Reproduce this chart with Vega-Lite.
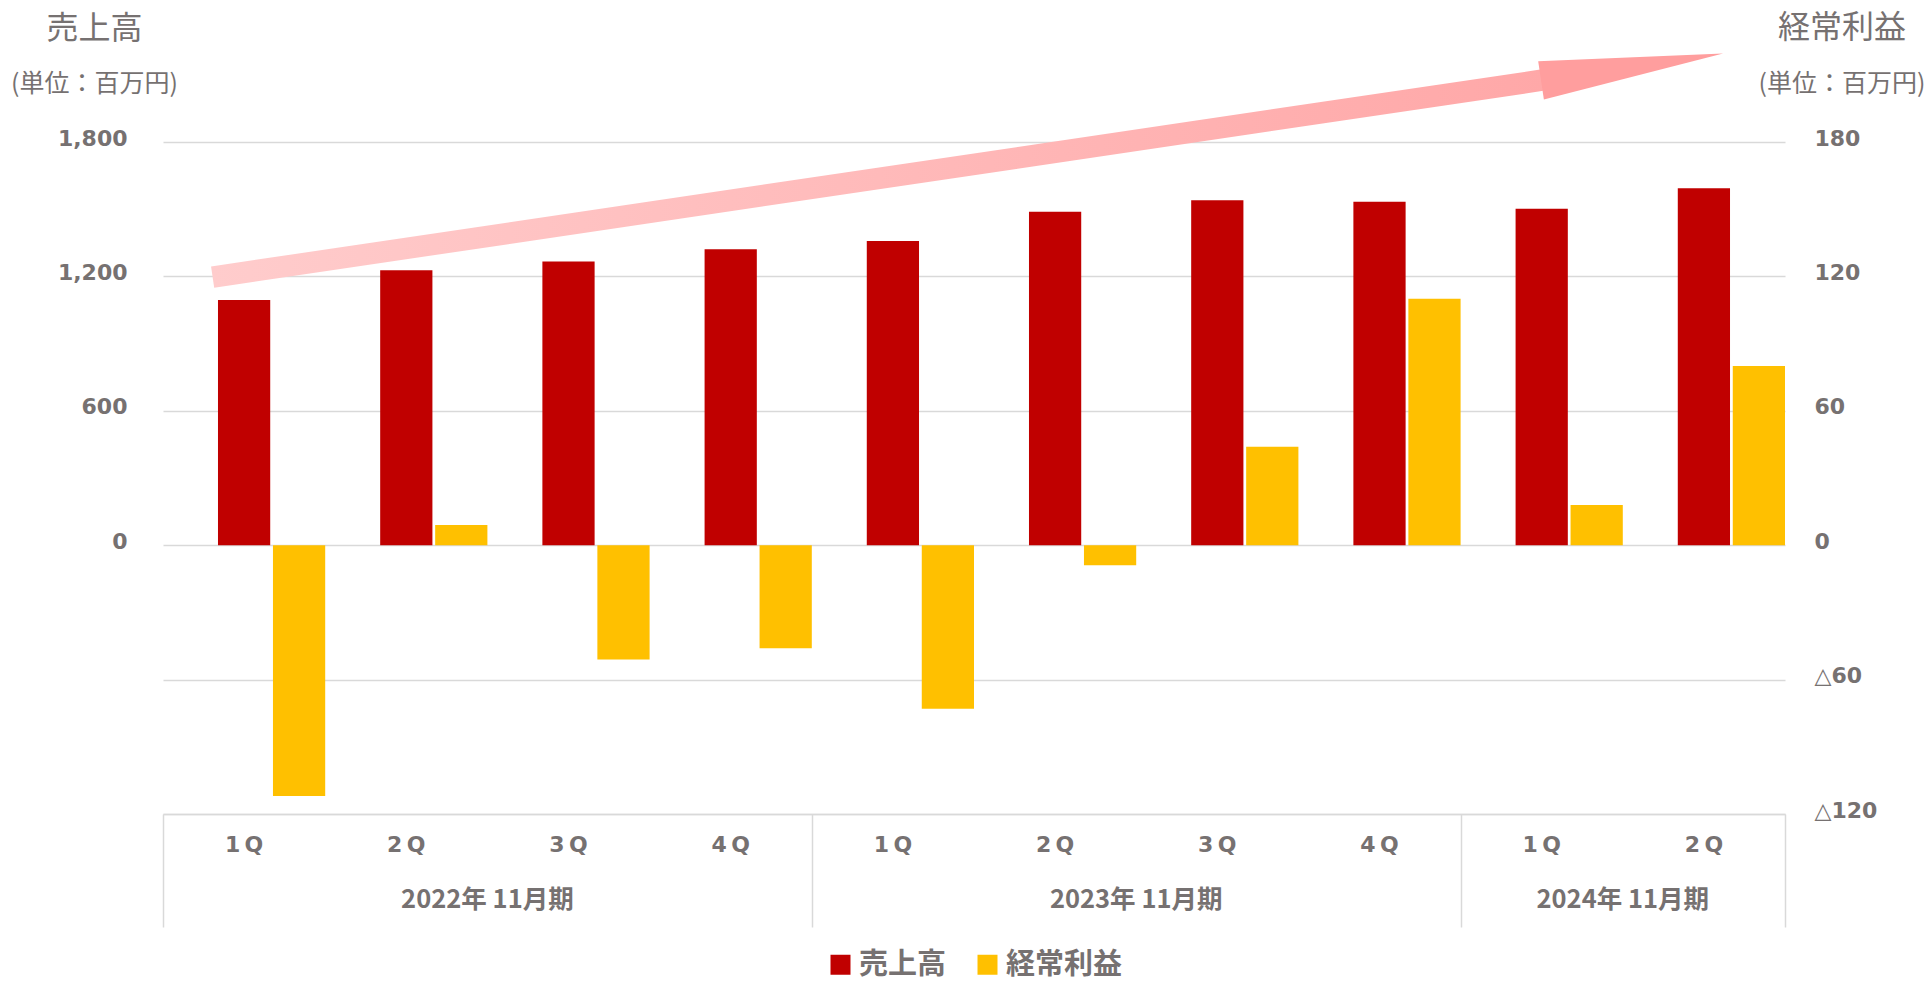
{
  "$schema": "https://vega.github.io/schema/vega-lite/v6.json",
  "width": 1622,
  "height": 672,
  "autosize": {"type": "none"},
  "padding": {"left": 163, "top": 142, "right": 142, "bottom": 167},
  "background": "white",
  "config": {"view": {"stroke": null}},
  "datasets": {
    "quarterly": [
      {"period": "2022-1Q", "series": "売上高", "value": 1095},
      {"period": "2022-2Q", "series": "売上高", "value": 1228},
      {"period": "2022-3Q", "series": "売上高", "value": 1267},
      {"period": "2022-4Q", "series": "売上高", "value": 1321},
      {"period": "2023-1Q", "series": "売上高", "value": 1358},
      {"period": "2023-2Q", "series": "売上高", "value": 1489},
      {"period": "2023-3Q", "series": "売上高", "value": 1540},
      {"period": "2023-4Q", "series": "売上高", "value": 1533},
      {"period": "2024-1Q", "series": "売上高", "value": 1502},
      {"period": "2024-2Q", "series": "売上高", "value": 1593},
      {"period": "2022-1Q", "series": "経常利益", "value": -112},
      {"period": "2022-2Q", "series": "経常利益", "value": 9},
      {"period": "2022-3Q", "series": "経常利益", "value": -51},
      {"period": "2022-4Q", "series": "経常利益", "value": -46},
      {"period": "2023-1Q", "series": "経常利益", "value": -73},
      {"period": "2023-2Q", "series": "経常利益", "value": -9},
      {"period": "2023-3Q", "series": "経常利益", "value": 44},
      {"period": "2023-4Q", "series": "経常利益", "value": 110},
      {"period": "2024-1Q", "series": "経常利益", "value": 18},
      {"period": "2024-2Q", "series": "経常利益", "value": 80}
    ],
    "trendArrow": [
      {"pos": 0.306, "level": 1197},
      {"pos": 8.52, "level": 2078}
    ],
    "arrowHead": [
      {"pos": 9.057, "level": 2135}
    ]
  },
  "resolve": {"scale": {"x": "independent", "y": "independent"}},
  "layer": [
    {
      "data": {"name": "quarterly"},
      "transform": [{"filter": "datum.series === '売上高'"}],
      "mark": {"type": "bar"},
      "encoding": {
        "x": {
          "field": "period", "type": "nominal", "sort": null,
          "scale": {"domain": ["2022-1Q","2022-2Q","2022-3Q","2022-4Q","2023-1Q","2023-2Q","2023-3Q","2023-4Q","2024-1Q","2024-2Q"], "paddingInner": 0, "paddingOuter": 0},
          "axis": {
            "orient": "bottom", "title": null, "labelAngle": 0,
            "labelExpr": "slice(datum.value, 5, 6) + '\u2009Q'",
            "labelFont": "DejaVu Sans", "labelFontSize": 22, "labelFontWeight": "bold", "labelColor": "#767171",
            "labelPadding": 20, "ticks": false, "domain": true, "domainColor": "#D9D9D9", "domainWidth": 1.5,
            "grid": false, "labelOverlap": false
          }
        },
        "xOffset": {"field": "series", "type": "nominal", "scale": {"domain": ["gap", "売上高", "経常利益"], "paddingInner": 0.05, "paddingOuter": 0}},
        "y": {
          "field": "value", "type": "quantitative",
          "scale": {"domain": [-1200, 1800], "nice": false},
          "axis": {
            "orient": "left", "values": [-1200, -600, 0, 600, 1200, 1800],
            "labelExpr": "datum.value < 0 ? '' : format(datum.value, ',')",
            "labelFont": "DejaVu Sans", "labelFontSize": 22, "labelFontWeight": "bold", "labelColor": "#767171",
            "labelPadding": 36, "labelOffset": -4, "ticks": false, "domain": false,
            "grid": true, "gridColor": "#D9D9D9", "gridWidth": 1.5,
            "title": "売上高", "titleAngle": 0, "titleX": -69, "titleY": -114, "titleAlign": "center", "titleBaseline": "middle",
            "titleFont": "Noto Sans CJK JP", "titleFontSize": 32, "titleFontWeight": "normal", "titleColor": "#767171"
          }
        },
        "color": {
          "field": "series", "type": "nominal",
          "scale": {"domain": ["売上高", "経常利益"], "range": ["#C00000", "#FFC000"]},
          "legend": {
            "orient": "none", "legendX": 663, "legendY": 808, "direction": "horizontal", "title": null,
            "symbolType": "square", "symbolSize": 400, "symbolStrokeWidth": 0,
            "labelFont": "Noto Sans CJK JP", "labelFontSize": 29, "labelFontWeight": "bold", "labelColor": "#767171",
            "labelOffset": 4, "columnPadding": 26, "labelLimit": 300
          }
        }
      }
    },
    {
      "data": {"name": "quarterly"},
      "transform": [{"filter": "datum.series === '経常利益'"}],
      "mark": {"type": "bar"},
      "encoding": {
        "x": {
          "field": "period", "type": "nominal", "sort": null,
          "scale": {"domain": ["2022-1Q","2022-2Q","2022-3Q","2022-4Q","2023-1Q","2023-2Q","2023-3Q","2023-4Q","2024-1Q","2024-2Q"], "paddingInner": 0, "paddingOuter": 0},
          "axis": {
            "orient": "bottom", "title": null, "labelAngle": 0, "labelAlign": "center",
            "values": ["2022-2Q", "2023-2Q", "2024-1Q"], "labelOffset": 81.1,
            "labelExpr": "slice(datum.value, 0, 4) + '年 11月期'",
            "labelFont": "Noto Sans CJK JP", "labelFontSize": 25.5, "labelFontWeight": "bold", "labelColor": "#767171",
            "labelPadding": 73, "ticks": false, "domain": false, "grid": false, "labelOverlap": false, "labelBound": false, "labelFlush": false
          }
        },
        "xOffset": {"field": "series", "type": "nominal", "scale": {"domain": ["gap", "売上高", "経常利益"], "paddingInner": 0.05, "paddingOuter": 0}},
        "y": {
          "field": "value", "type": "quantitative",
          "scale": {"domain": [-120, 180], "nice": false},
          "axis": {
            "orient": "right", "values": [-120, -60, 0, 60, 120, 180],
            "labelExpr": "datum.value < 0 ? '△' + format(-datum.value, 'd') : format(datum.value, 'd')",
            "labelFont": "DejaVu Sans", "labelFontSize": 22, "labelFontWeight": "bold", "labelColor": "#767171",
            "labelPadding": 29, "labelOffset": -4, "labelAlign": "left", "ticks": false, "domain": false, "grid": false,
            "title": "経常利益", "titleAngle": 0, "titleX": 56.5, "titleY": -114.5, "titleAlign": "center", "titleBaseline": "middle",
            "titleFont": "Noto Sans CJK JP", "titleFontSize": 32, "titleFontWeight": "normal", "titleColor": "#767171"
          }
        },
        "color": {
          "field": "series", "type": "nominal",
          "scale": {"domain": ["売上高", "経常利益"], "range": ["#C00000", "#FFC000"]},
          "legend": {
            "orient": "none", "legendX": 663, "legendY": 808, "direction": "horizontal", "title": null,
            "symbolType": "square", "symbolSize": 400, "symbolStrokeWidth": 0,
            "labelFont": "Noto Sans CJK JP", "labelFontSize": 29, "labelFontWeight": "bold", "labelColor": "#767171",
            "labelOffset": 4, "columnPadding": 26, "labelLimit": 300
          }
        }
      }
    },
    {
      "data": {"name": "trendArrow"},
      "mark": {
        "type": "line", "strokeWidth": 21.5, "strokeCap": "butt",
        "stroke": {"gradient": "linear", "x1": 0, "y1": 0, "x2": 1, "y2": 0, "stops": [{"offset": 0, "color": "#FFCCCC"}, {"offset": 1, "color": "#FFA8A8"}]}
      },
      "encoding": {
        "x": {
          "field": "pos", "type": "quantitative",
          "scale": {"domain": [0, 10], "nice": false, "zero": false},
          "axis": {"orient": "bottom", "values": [0, 4, 8, 10], "tickSize": 113, "tickColor": "#D9D9D9", "tickWidth": 1.5, "labels": false, "domain": false, "grid": false, "title": null}
        },
        "y": {
          "field": "level", "type": "quantitative",
          "scale": {"domain": [-1200, 1800], "nice": false},
          "axis": {
            "orient": "left", "labels": false, "ticks": false, "domain": false, "grid": false,
            "title": "(単位：百万円)", "titleAngle": 0, "titleX": -69, "titleY": -59, "titleAlign": "center", "titleBaseline": "middle",
            "titleFont": "Noto Sans CJK JP", "titleFontSize": 25, "titleFontWeight": "normal", "titleColor": "#767171"
          }
        }
      }
    },
    {
      "data": {"name": "arrowHead"},
      "mark": {"type": "point", "shape": "M-1,-0.21L1,0L-1,0.21Z", "size": 33856, "angle": -8.42, "filled": true, "color": "#FF9E9E", "opacity": 1, "strokeWidth": 0},
      "encoding": {
        "x": {"field": "pos", "type": "quantitative", "scale": {"domain": [0, 10], "nice": false, "zero": false}, "axis": null},
        "y": {
          "field": "level", "type": "quantitative",
          "scale": {"domain": [-1200, 1800], "nice": false},
          "axis": {
            "orient": "right", "labels": false, "ticks": false, "domain": false, "grid": false,
            "title": "(単位：百万円)", "titleAngle": 0, "titleX": 56.5, "titleY": -59, "titleAlign": "center", "titleBaseline": "middle",
            "titleFont": "Noto Sans CJK JP", "titleFontSize": 25, "titleFontWeight": "normal", "titleColor": "#767171"
          }
        }
      }
    }
  ]
}
